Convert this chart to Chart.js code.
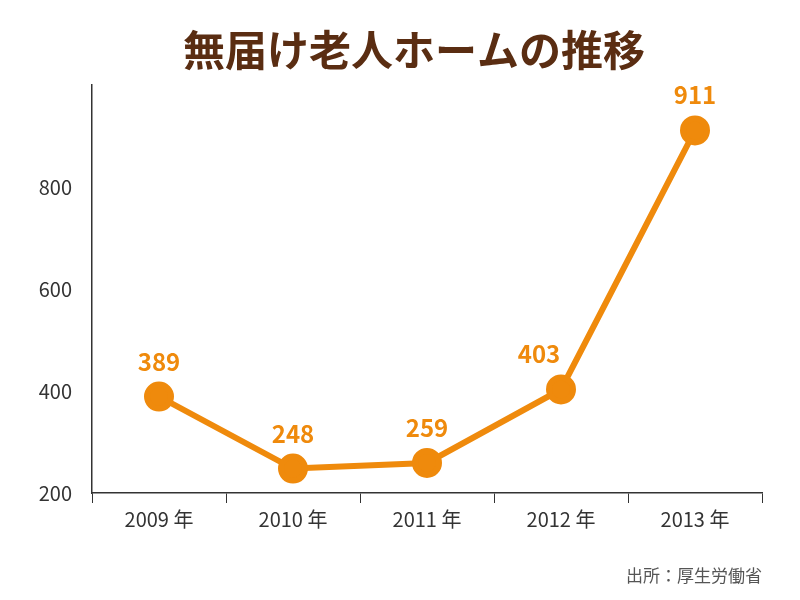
<!DOCTYPE html>
<html><head><meta charset="utf-8">
<script src="https://cdn.jsdelivr.net/npm/chart.js@4/dist/chart.umd.min.js"></script>
<style>body{margin:0;background:#fff}#w{width:800px;height:600px}</style>
</head><body><div id="w"><canvas id="c"></canvas></div>
<script>
const categories = ["2009 年","2010 年","2011 年","2012 年","2013 年"];
const values = [389,248,259,403,911];
const yTicks = [200,400,600,800];
const ORANGE = "#ef8a0c";
const FONT = "'Noto Sans CJK JP','Noto Sans',sans-serif";
const deco = {
  id:"deco",
  afterDraw(ch){
    const ctx=ch.ctx; ctx.save();
    ctx.fillStyle="#5a2d12"; ctx.font="bold 42px "+FONT; ctx.textAlign="center"; ctx.textBaseline="middle";
    ctx.fillText("無届け老人ホームの推移",414,50);
    const meta=ch.getDatasetMeta(0);
    ctx.fillStyle=ORANGE; ctx.font="bold 24px "+FONT; ctx.textBaseline="alphabetic";
    meta.data.forEach((p,i)=>ctx.fillText(String(values[i]),p.x-(i===3?22:0),p.y-26));
    ctx.fillStyle="#555"; ctx.font="17px "+FONT; ctx.textAlign="right";
    ctx.fillText("出所：厚生労働省",762,582);
    ctx.restore();
  }
};
new Chart(document.getElementById("c"),{
  type:"line",
  data:{labels:categories,datasets:[{data:values,borderColor:ORANGE,backgroundColor:ORANGE,borderWidth:6,pointRadius:12,pointHoverRadius:12,tension:0}]},
  options:{responsive:true,maintainAspectRatio:false,animation:false,
    layout:{padding:{top:85,right:38,left:0,bottom:0}},
    plugins:{legend:{display:false},tooltip:{enabled:false}},
    scales:{
      x:{offset:true,grid:{offset:true,drawOnChartArea:false,drawTicks:true,tickLength:10,color:"#333"},
        border:{color:"#333",width:1.5},
        ticks:{color:"#333",font:{size:20,family:FONT},padding:4},
        afterFit(s){s.height=107;}},
      y:{min:200,max:1000,afterBuildTicks(s){s.ticks=yTicks.map(v=>({value:v}));},
        grid:{display:false},border:{color:"#333",width:1.5},
        ticks:{color:"#333",font:{size:20,family:FONT},padding:12},
        afterFit(s){s.width=92;}}
    }},
  plugins:[deco]
});
</script></body></html>
